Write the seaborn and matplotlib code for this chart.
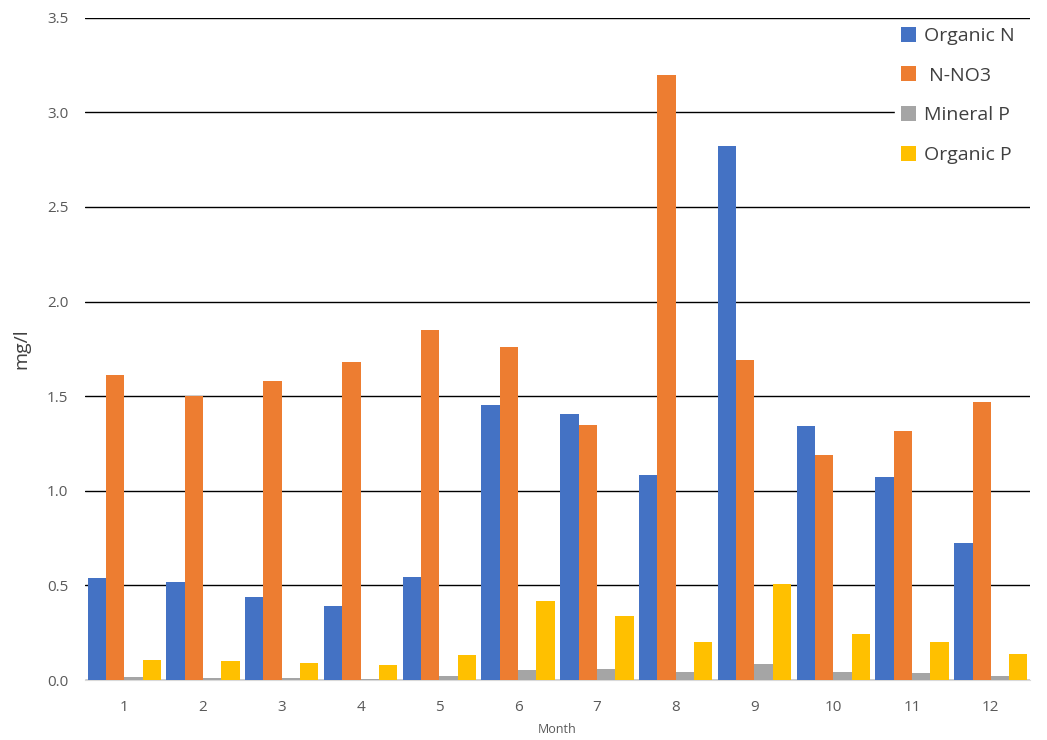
import matplotlib
matplotlib.use("Agg")
import matplotlib.pyplot as plt
import seaborn as sns
import pandas as pd

months = list(range(1, 13))
organic_n = [0.54, 0.52, 0.44, 0.39, 0.545, 1.455, 1.405, 1.085, 2.82, 1.34, 1.075, 0.725]
n_no3 = [1.61, 1.50, 1.58, 1.68, 1.85, 1.76, 1.35, 3.20, 1.69, 1.19, 1.317, 1.47]
mineral_p = [0.015, 0.01, 0.012, 0.008, 0.02, 0.055, 0.058, 0.042, 0.085, 0.045, 0.035, 0.022]
organic_p = [0.105, 0.10, 0.09, 0.08, 0.13, 0.42, 0.34, 0.20, 0.51, 0.245, 0.20, 0.14]
series = ["Organic N", " N-NO3", "Mineral P", "Organic P"]
colors = ["#4472C4", "#ED7D31", "#A5A5A5", "#FFC000"]

rows = []
for name, vals in zip(series, [organic_n, n_no3, mineral_p, organic_p]):
    for m, v in zip(months, vals):
        rows.append({"Month": str(m), "series": name, "value": v})
df = pd.DataFrame(rows)

sns.set_style("white")
plt.rcParams['font.family'] = ['Open Sans', 'DejaVu Sans']
fig = plt.figure(figsize=(10.47, 7.4), dpi=100)
ax = fig.add_axes([0.081, 0.081, 0.903, 0.895])
sns.barplot(data=df, x="Month", y="value", hue="series", palette=colors,
            width=0.93, saturation=1, ax=ax, zorder=3, linewidth=0, edgecolor="none")
ax.set_ylim(0, 3.5)
ax.set_yticks([i * 0.5 for i in range(8)])
ax.set_yticklabels([f"{i*0.5:.1f}" for i in range(8)], color="#595959", fontsize=11)
ax.tick_params(axis='x', colors="#595959", labelsize=11, length=0, pad=14)
ax.tick_params(axis='y', length=0, pad=12)
ax.grid(axis='y', color='black', linewidth=1, zorder=0)
ax.set_axisbelow(True)
for s in ["top", "right", "left"]:
    ax.spines[s].set_visible(False)
ax.spines["bottom"].set_color("#D9D9D9")
ax.set_xlabel("Month", fontsize=9, color="#595959", labelpad=6)
ax.set_ylabel("mg/l", fontsize=14, color="#404040", labelpad=12)
leg = ax.legend(loc="upper left", bbox_to_anchor=(0.857, 0.995, 0.143, 0.0), mode="expand",
                frameon=True, fontsize=14,
                handlelength=0.8, handleheight=0.8, handletextpad=0.4, labelspacing=1.1,
                borderaxespad=0.0, borderpad=0.3, fancybox=False, edgecolor="white")
leg.get_frame().set_alpha(1)
for t in leg.get_texts():
    t.set_color("#404040")
fig.savefig("out.png", dpi=100)
